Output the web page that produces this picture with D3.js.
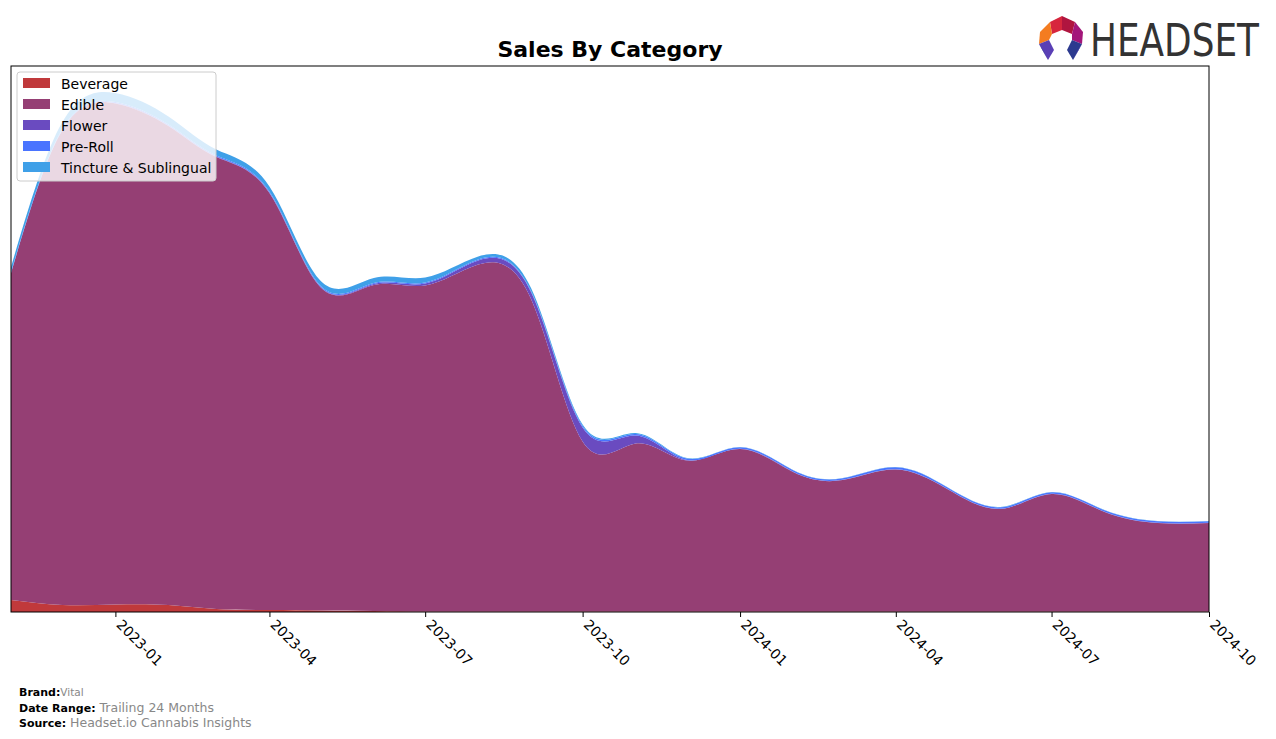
<!DOCTYPE html>
<html>
<head>
<meta charset="utf-8">
<script src="https://cdn.jsdelivr.net/npm/d3@7"></script>
<style>
  body { margin: 0; background: #fff; }
  svg { display: block; font-family: "DejaVu Sans", sans-serif; }
</style>
</head>
<body>
<svg id="chart" width="1276" height="739"></svg>
<script>
// ---- Data (monthly, relative sales units) ----
const months = ["2022-11","2022-12","2023-01","2023-02","2023-03","2023-04","2023-05","2023-06",
  "2023-07","2023-08","2023-09","2023-10","2023-11","2023-12","2024-01","2024-02","2024-03",
  "2024-04","2024-05","2024-06","2024-07","2024-08","2024-09","2024-10"];
const categories = ["Beverage","Edible","Flower","Pre-Roll","Tincture & Sublingual"];
const beverage = [12, 7, 7.5, 7, 3, 2, 1.5, 1, 0.5, 0.5, 0.5, 0.5, 0.5, 0.5, 0.5, 0.5, 0.5, 0.5, 0.5, 0.5, 0.5, 0.5, 0.5, 0.5];
const edible   = [327, 475, 501, 479, 452, 417, 323, 326, 326, 347, 312, 170, 168, 151, 162.5, 139.5, 131.5, 142, 122.5, 102.5, 117.5, 99.5, 88.5, 88.5];
const flower   = [0, 0, 0.5, 0.5, 0.5, 0.5, 0.5, 1, 2, 4, 7, 14, 8, 0.5, 0.3, 0.2, 0.2, 0.2, 0.2, 0.2, 0.2, 0.2, 0.2, 0.2];
const preRoll  = [1, 1, 1, 1, 1, 1, 1, 1, 1, 1, 1, 1.5, 1.5, 1.5, 1.5, 1.5, 1.5, 2, 1.5, 1.5, 1.5, 1.5, 1.5, 1.5];
const tincture = [5, 7, 9, 8, 6, 5, 5, 5, 5, 3, 3, 1.5, 1, 0.5, 0.3, 0.3, 0.3, 0.3, 0.3, 0.3, 0.3, 0.3, 0.3, 0.3];
const tickLabels = ["2023-01","2023-04","2023-07","2023-10","2024-01","2024-04","2024-07","2024-10"];
const colors = ["#c0393b", "#953f74", "#6a4bc0", "#4a74ff", "#3fa0e8"];

// ---- Build table ----
const parse = d3.timeParse("%Y-%m");
const series = [beverage, edible, flower, preRoll, tincture];
const table = months.map((m, i) => {
  const row = { date: parse(m) };
  categories.forEach((c, k) => row[c] = series[k][i]);
  return row;
});

const svg = d3.select("#chart");
const pL = 11, pR = 1209, pT = 66, pB = 612;

const x = d3.scaleTime().domain([parse(months[0]), parse(months[months.length - 1])]).range([pL, pR]);
const y = d3.scaleLinear().domain([0, 546]).range([pB, pT]);

const stack = d3.stack().keys(categories);
const layers = stack(table);

const area = d3.area()
  .x(d => x(d.data.date))
  .y0(d => y(d[0]))
  .y1(d => y(d[1]))
  .curve(d3.curveNatural);

svg.append("clipPath").attr("id", "plotclip")
  .append("rect").attr("x", pL).attr("y", pT).attr("width", pR - pL).attr("height", pB - pT);

svg.append("g").attr("clip-path", "url(#plotclip)")
  .selectAll("path").data(layers).enter().append("path")
  .attr("d", area)
  .attr("fill", (d, i) => colors[i]);

// plot frame
svg.append("rect").attr("x", pL).attr("y", pT).attr("width", pR - pL).attr("height", pB - pT)
  .attr("fill", "none").attr("stroke", "#000").attr("stroke-width", 1);

// x axis
const axis = d3.axisBottom(x)
  .tickValues(tickLabels.map(parse))
  .tickFormat(d3.timeFormat("%Y-%m"))
  .tickSize(5).tickPadding(3);
const gx = svg.append("g").attr("transform", `translate(0,${pB})`).call(axis);
gx.select(".domain").remove();
gx.selectAll(".tick line").attr("stroke", "#000");
gx.selectAll(".tick text")
  .attr("font-size", 14).attr("fill", "#000")
  .attr("font-family", "DejaVu Sans, sans-serif")
  .attr("text-anchor", "start")
  .attr("transform", "translate(3,10) rotate(45)")
  .attr("dy", "0.35em").attr("y", 0).attr("x", 0);

// title
svg.append("text").attr("x", 610).attr("y", 57).attr("text-anchor", "middle")
  .attr("font-size", 22).attr("font-weight", "bold").attr("fill", "#000")
  .text("Sales By Category");

// legend
const lg = svg.append("g");
lg.append("rect").attr("x", 17).attr("y", 72).attr("width", 199).attr("height", 109)
  .attr("rx", 3).attr("fill", "#fff").attr("fill-opacity", 0.8).attr("stroke", "#ccc");
categories.forEach((c, i) => {
  const yy = 84 + i * 21;
  lg.append("rect").attr("x", 23).attr("y", yy - 6).attr("width", 27).attr("height", 10).attr("fill", colors[i]);
  lg.append("text").attr("x", 61).attr("y", yy + 5).attr("font-size", 14).attr("fill", "#000").text(c);
});

// footer
const foot = [["Brand:", "Vital", 696], ["Date Range:", "Trailing 24 Months", 712], ["Source:", "Headset.io Cannabis Insights", 727]];
foot.forEach(([k, v, yy]) => {
  const t = svg.append("text").attr("x", 19).attr("y", yy).attr("font-size", 11);
  t.append("tspan").attr("font-weight", "bold").attr("fill", "#000").text(k);
  t.append("tspan").attr("fill", "#888").attr("font-size", k === "Brand:" ? 10.5 : 12.5).text(k === "Brand:" ? v : " " + v);
});

// logo
const logo = svg.append("g");
const polys = [
  [[[1050,22],[1062,16],[1062,30],[1052,34]], "#d7263d"],
  [[[1062,16],[1075,22],[1072,34],[1062,30]], "#b0153f"],
  [[[1075,22],[1083,32],[1082,44],[1072,40],[1072,34]], "#a3167a"],
  [[[1050,22],[1040,32],[1039,44],[1049,40],[1052,34]], "#f47c20"],
  [[[1039,44],[1049,40],[1054,50],[1048,60]], "#5a3fb5"],
  [[[1082,44],[1072,40],[1067,50],[1073,60]], "#2c3a8f"],
  [[[1039,44],[1048,60],[1043,50]], "#3b3f9f"],
  [[[1082,44],[1073,60],[1078,50]], "#4b3fb0"]
];
polys.forEach(([pts, col]) => {
  logo.append("polygon").attr("points", pts.map(p => p.join(",")).join(" ")).attr("fill", col);
});
logo.append("text").attr("x", 1090).attr("y", 56).attr("font-size", 44)
  .attr("font-family", "Liberation Sans Narrow, DejaVu Sans Condensed, sans-serif")
  .attr("fill", "#333").attr("textLength", 169).attr("lengthAdjust", "spacingAndGlyphs")
  .text("HEADSET");
</script>
</body>
</html>
